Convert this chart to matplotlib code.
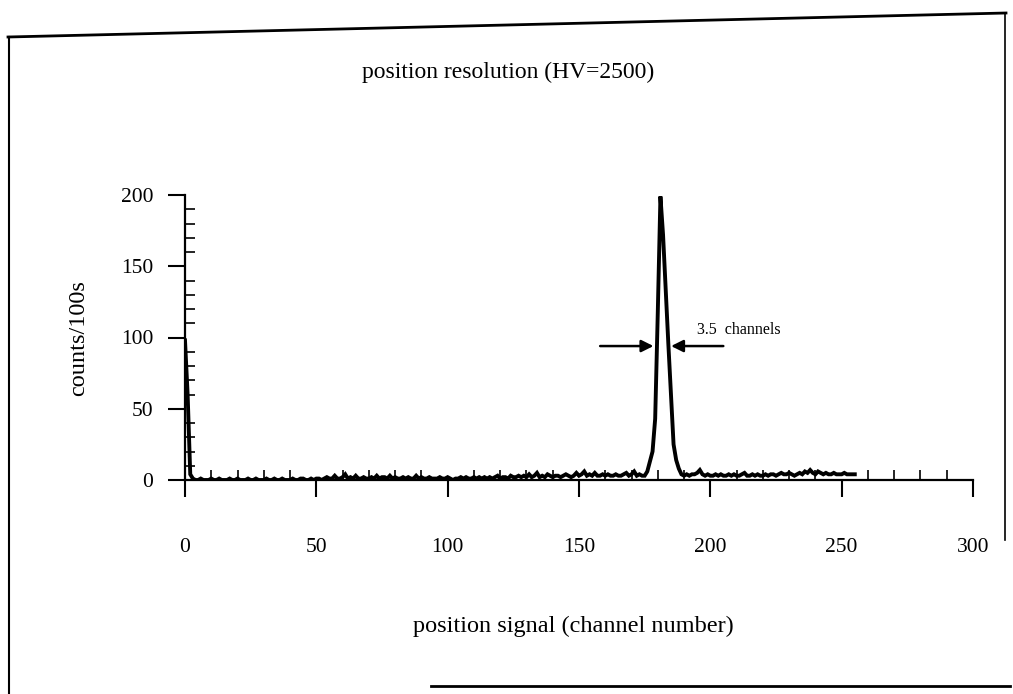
import numpy as np
import matplotlib
matplotlib.use('Agg')
from matplotlib import pyplot as plt
from matplotlib.ticker import MultipleLocator

plt.rcParams['font.family'] = ['Liberation Serif', 'DejaVu Serif']

# counts per channel, channels 0..255 (16 per row)
counts = [
    98, 60, 4, 1, 0, 0, 1, 0, 0, 0, 1, 0, 0, 1, 0, 0,
    0, 1, 0, 0, 1, 0, 0, 0, 1, 0, 0, 1, 0, 0, 0, 1,
    0, 0, 1, 0, 0, 1, 0, 0, 0, 1, 0, 0, 1, 1, 0, 0,
    1, 0, 1, 1, 0, 1, 2, 1, 1, 3, 1, 1, 2, 4, 1, 2,
    1, 3, 1, 1, 2, 1, 1, 2, 1, 3, 1, 2, 2, 1, 3, 1,
    2, 1, 1, 2, 1, 2, 1, 1, 3, 1, 2, 1, 1, 2, 1, 1,
    1, 2, 1, 1, 2, 1, 0, 1, 1, 2, 1, 2, 1, 1, 2, 1,
    2, 1, 2, 1, 2, 1, 2, 3, 1, 2, 2, 1, 3, 2, 2, 3,
    2, 3, 2, 4, 2, 3, 5, 2, 3, 2, 4, 3, 2, 3, 3, 2,
    3, 4, 3, 2, 3, 5, 3, 4, 6, 3, 4, 3, 5, 3, 3, 4,
    3, 4, 3, 3, 4, 3, 3, 4, 5, 3, 4, 6, 3, 4, 3, 3,
    6, 13, 20, 43, 118, 199, 172, 134, 96, 60, 25, 14, 8, 4, 3, 4,
    3, 4, 4, 5, 7, 4, 3, 4, 3, 3, 4, 3, 4, 3, 3, 4,
    3, 4, 3, 3, 4, 5, 3, 3, 4, 3, 4, 3, 3, 4, 3, 4,
    4, 3, 4, 5, 4, 4, 5, 4, 3, 4, 5, 4, 6, 5, 7, 5,
    4, 6, 5, 4, 5, 4, 4, 5, 4, 4, 4, 5, 4, 4, 4, 4,
]
channels = np.arange(len(counts))

x_ticks = [0, 50, 100, 150, 200, 250, 300]
y_ticks = [0, 50, 100, 150, 200]

# FWHM marker
fwhm_label = '3.5  channels'
fwhm_level = 94
fwhm_left = (157, 179.4)
fwhm_right = (206, 184)

W, H = 1013, 694
fig = plt.figure(figsize=(W / 100, H / 100), dpi=100)
ax = fig.add_axes([185 / W, 1 - 480 / H, (973 - 185) / W, (480 - 195) / H])

ax.plot(channels, counts, color='black', lw=2.8, solid_joinstyle='miter')

ax.set_xlim(0, 300)
ax.set_ylim(0, 200)
ax.set_xticks(x_ticks)
ax.set_yticks(y_ticks)
ax.xaxis.set_minor_locator(MultipleLocator(10))
ax.yaxis.set_minor_locator(MultipleLocator(10))
ax.tick_params(which='major', direction='out', length=12, width=1.5, labelsize=15.5)
ax.tick_params(axis='x', which='major', pad=30)
ax.tick_params(axis='y', which='major', pad=11)
ax.tick_params(which='minor', direction='in', length=7, width=1.2)
for side in ['top', 'right']:
    ax.spines[side].set_visible(False)
for side in ['left', 'bottom']:
    ax.spines[side].set_linewidth(1.6)

# arrows marking the width at half maximum
ax.annotate('', xy=(fwhm_left[1], fwhm_level), xytext=(fwhm_left[0], fwhm_level),
            arrowprops=dict(arrowstyle='-|>', color='black', lw=1.8, mutation_scale=18))
ax.annotate('', xy=(fwhm_right[1], fwhm_level), xytext=(fwhm_right[0], fwhm_level),
            arrowprops=dict(arrowstyle='-|>', color='black', lw=1.8, mutation_scale=18))
ax.text(195, 100, fwhm_label, fontsize=11.5, va='bottom', ha='left')

fig.text(508 / W, 1 - 72 / H, 'position resolution (HV=2500)', fontsize=17,
         ha='center', va='center')
fig.text(573 / W, 1 - 626 / H, 'position signal (channel number)', fontsize=17.5,
         ha='center', va='center')
fig.text(79 / W, 1 - 338 / H, 'counts/100s', fontsize=17.5, rotation=90,
         ha='center', va='center')

# scanned page frame
def frame_line(xs, ys, lw):
    fig.add_artist(plt.Line2D([x / W for x in xs], [1 - y / H for y in ys],
                              color='black', lw=lw))

frame_line([8, 1006], [37, 13], 2.0)
frame_line([9, 9], [37, 694], 1.5)
frame_line([1005, 1005], [13, 540], 1.2)
frame_line([431, 1010], [686, 686], 2.0)

fig.savefig('out.png', dpi=100)
